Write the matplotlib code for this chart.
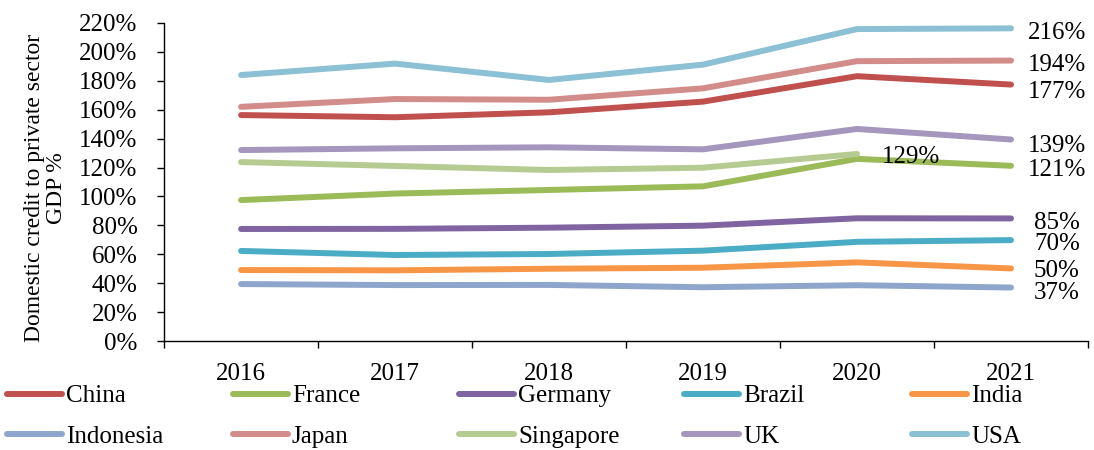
import numpy as np
import matplotlib
matplotlib.use("Agg")
import matplotlib.pyplot as plt
from matplotlib.ticker import FuncFormatter

plt.rcParams['font.family'] = ['Liberation Serif', 'DejaVu Serif']

# ===== Data (% of GDP) =====
years = ['2016', '2017', '2018', '2019', '2020', '2021']

china     = [156.3, 154.8, 158.2, 165.6, 183.2, 177.4]
france    = [97.5, 102.0, 104.5, 107.0, 126.0, 121.2]
germany   = [77.5, 77.6, 78.4, 79.8, 84.9, 84.8]
brazil    = [62.3, 59.5, 60.2, 62.5, 68.6, 69.8]
india     = [49.1, 48.9, 50.0, 50.7, 54.4, 50.2]
indonesia = [39.4, 38.7, 38.8, 37.2, 38.6, 37.0]
japan     = [162.0, 167.4, 166.9, 174.8, 193.6, 194.0]
singapore = [123.8, 121.1, 118.3, 119.9, 129.4, np.nan]
uk        = [132.1, 133.3, 134.0, 132.6, 146.7, 139.4]
usa       = [184.0, 191.9, 180.6, 191.2, 215.8, 216.3]

names = ['China', 'France', 'Germany', 'Brazil', 'India',
         'Indonesia', 'Japan', 'Singapore', 'UK', 'USA']
series = [china, france, germany, brazil, india,
          indonesia, japan, singapore, uk, usa]
colors = ['#C0504D', '#9BBB59', '#8064A2', '#4BACC6', '#F79646',
          '#8EA6CC', '#D28C8A', '#B5CB92', '#A496BC', '#8CC0D4']

# end labels: (series index, year index, extra y offset in points)
end_labels = [(9, 5, 0), (6, 5, 0), (0, 5, -2), (8, 5, -2), (1, 5, 0),
              (2, 5, 0), (3, 5, 0), (4, 5, 1), (5, 5, -1)]

# ===== Plot =====
fig = plt.figure(figsize=(10.94, 4.5), dpi=100)
ax = fig.add_axes([0.15, 0.2422, 0.8445, 0.7067])

x = np.arange(len(years))
handles = []
for name, vals, col in zip(names, series, colors):
    h, = ax.plot(x, vals, color=col, linewidth=4.3, solid_capstyle='round',
                 solid_joinstyle='round', label=name)
    handles.append(h)

for si, yi, dy in end_labels:
    v = series[si][yi]
    ax.annotate(f'{v:.0f}%', xy=(x[yi], v), xytext=(33, -3 + dy),
                textcoords='offset points', ha='center', va='center',
                fontsize=18, annotation_clip=False)

# Singapore ends in 2020
ax.annotate(f'{singapore[4]:.0f}%', xy=(x[4], singapore[4]), xytext=(18, -2),
            textcoords='offset points', ha='left', va='center', fontsize=18)

ax.set_xlim(-0.5, len(years) - 0.5)
ax.set_ylim(0, 220)
ax.set_yticks(np.arange(0, 221, 20))
ax.yaxis.set_major_formatter(FuncFormatter(lambda v, p: f'{v:.0f}%'))
ax.set_xticks(x)
ax.set_xticklabels(years)
ax.set_xticks(np.arange(-0.5, len(years), 1), minor=True)
ax.tick_params(axis='x', which='major', length=0, pad=16, labelsize=18)
ax.tick_params(axis='x', which='minor', length=5, width=1, direction='out')
ax.tick_params(axis='y', length=5, width=1, direction='out', labelsize=18, pad=14)

for s in ['top', 'right']:
    ax.spines[s].set_visible(False)
for s in ['left', 'bottom']:
    ax.spines[s].set_linewidth(1)
    ax.spines[s].set_color('#000000')

ax.set_ylabel('Domestic credit to private sector\nGDP %', fontsize=17,
              linespacing=1.05)
ax.yaxis.set_label_coords(-0.105, 0.48)

# legend: 5 columns, 2 rows
col_x = [7, 233, 459, 684, 912]
for c in range(5):
    fig.legend([handles[c], handles[c + 5]], [names[c], names[c + 5]],
               loc='upper left', bbox_to_anchor=(col_x[c] / 1094, 0.145),
               frameon=False, fontsize=18, handlelength=2.2,
               handletextpad=0.16, labelspacing=0.72, borderpad=0,
               borderaxespad=0)

fig.savefig('out.png', dpi=100)
